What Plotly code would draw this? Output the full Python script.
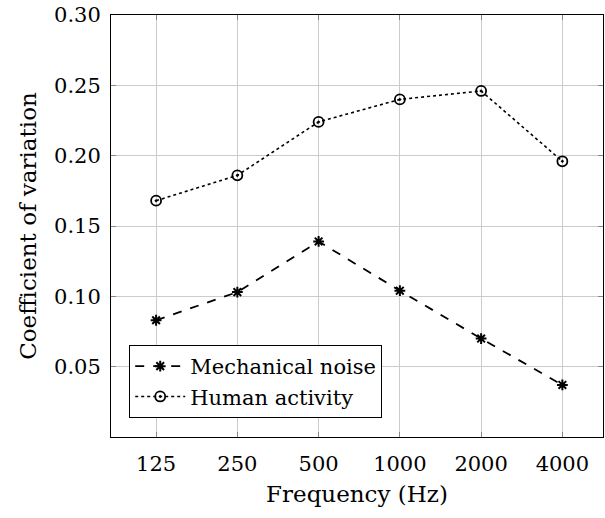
import plotly.graph_objects as go

freqs = ["125", "250", "500", "1000", "2000", "4000"]
mechanical = [0.083, 0.103, 0.139, 0.104, 0.070, 0.037]
human = [0.168, 0.186, 0.224, 0.240, 0.246, 0.196]
yticks = [0.05, 0.10, 0.15, 0.20, 0.25, 0.30]

FONT = "DejaVu Serif"
FS = 21
FT = 23

fig = go.Figure()
fig.add_trace(go.Scatter(
    x=freqs, y=mechanical, name="Mechanical noise", mode="lines+markers",
    line=dict(color="black", width=1.8, dash="dash"),
    marker=dict(symbol="asterisk-open", size=9, color="black",
                line=dict(color="black", width=2)),
))
fig.add_trace(go.Scatter(
    x=freqs, y=human, name="Human activity", mode="lines+markers",
    line=dict(color="black", width=1.6, dash="dot"),
    marker=dict(symbol="circle-open-dot", size=10, color="black",
                line=dict(color="black", width=1.8)),
))

axis_common = dict(
    showline=True, mirror="ticks", linecolor="black", linewidth=1,
    showgrid=True, gridcolor="#cccccc", gridwidth=1,
    ticks="inside", ticklen=5, tickcolor="#888888",
    zeroline=False, tickfont=dict(family=FONT, size=FS, color="black"),
)

fig.update_layout(
    width=605, height=518,
    margin=dict(l=111, r=2, t=15, b=81),
    paper_bgcolor="white", plot_bgcolor="white",
    font=dict(family=FONT, size=FS, color="black"),
    xaxis=dict(type="category", range=[-0.555, 5.5], ticklabelstandoff=8,
               title=dict(text="Frequency (Hz)", font=dict(family=FONT, size=FT), standoff=10),
               **axis_common),
    yaxis=dict(range=[0, 0.30], tickvals=yticks, tickformat=".2f", ticklabelstandoff=5,
               title=dict(text="Coefficient of variation", font=dict(family=FONT, size=FT), standoff=10),
               **axis_common),
    legend=dict(x=0.037, y=0.045, xanchor="left", yanchor="bottom",
                bgcolor="white", bordercolor="black", borderwidth=1,
                font=dict(family=FONT, size=FS), itemwidth=50,
                tracegroupgap=0),
    showlegend=True,
)

fig.write_html("out.html")
